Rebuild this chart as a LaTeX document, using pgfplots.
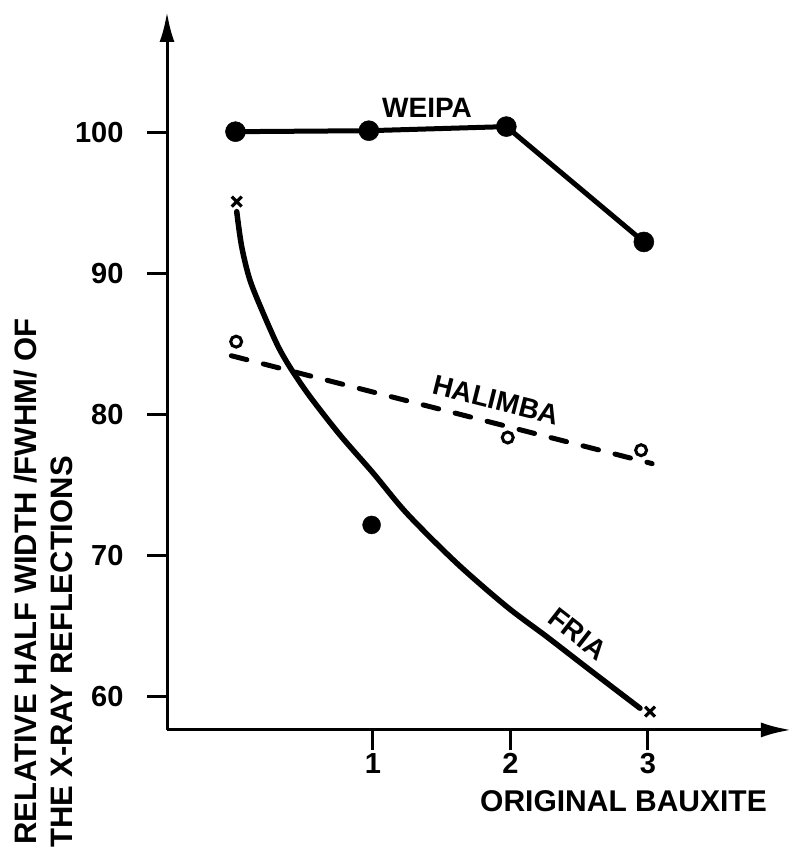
\documentclass[border=0pt]{standalone}
\usepackage{fontspec}
\setmainfont{Liberation Sans}
\usepackage{pgfplots}
\pgfplotsset{compat=1.18}
\usetikzlibrary{arrows.meta}

% Fria: smooth trend curve
\pgfplotstableread{
x      y
0.009  94.42
0.045  91.94
0.105  89.57
0.202  87.21
0.311  84.84
0.409  83.19
0.542  81.30
0.760  78.58
1.002  75.87
1.245  73.03
1.609  69.49
1.972  66.41
2.263  64.28
2.578  61.91
2.942  59.20
}\friacurve

\begin{document}
\begin{tikzpicture}
\begin{axis}[
  x=137.5pt, y=14.1pt,
  xmin=-0.498, xmax=4.04, ymin=57.66, ymax=108.58,
  axis x line=bottom, axis y line=left,
  axis line style={line width=3pt, -{Latex[length=30pt,width=15pt]}},
  xtick={1,2,3}, ytick={60,70,80,90,100},
  tick align=outside, major tick length=20pt,
  tick style={line width=3pt, black},
  ticklabel style={font=\fontsize{29}{34}\selectfont\bfseries},
  yticklabel style={xshift=-20pt},
  /pgf/number format/assume math mode=true,
  clip=false,
]
% Weipa
\addplot[black, line width=5pt, mark=*, mark size=10pt,
  mark options={line width=0.5pt}]
  coordinates {(0,100.09) (0.97,100.16) (1.97,100.45) (2.97,92.27)};
% Halimba: fitted dashed line and measured points
\addplot[black, line width=5pt, line cap=round, dash pattern=on 16pt off 17pt]
  coordinates {(-0.03,84.2) (3.03,76.55)};
\addplot[only marks, mark=o, mark size=5.5pt, mark options={line width=3pt}]
  coordinates {(0.005,85.2) (1.98,78.4) (2.95,77.5)};
% Fria
\addplot[black, line width=5.5pt, line cap=round, smooth, tension=0.5] table {\friacurve};
\addplot[only marks, mark=x, mark size=7pt, mark options={line width=3.2pt}]
  coordinates {(0.009,95.13) (3.015,58.96)};
\addplot[only marks, mark=*, mark size=9pt]
  coordinates {(0.99,72.2)};

\begin{scope}[font=\fontsize{28}{34}\selectfont\bfseries]
\node at (axis cs:1.393,101.8) {WEIPA};
\node[rotate=-14] at (axis cs:1.895,81.06) {HALIMBA};
\node[rotate=-38] at (axis cs:2.491,64.47) {FRIA};
\end{scope}

\begin{scope}[font=\fontsize{31}{37}\selectfont\bfseries]
\node[rotate=90, anchor=base west, inner sep=0pt] at (axis cs:-1.4436,49.50)
  {RELATIVE HALF WIDTH /FWHM/ OF};
\node[rotate=90, anchor=base west, inner sep=0pt] at (axis cs:-1.189,49.29)
  {THE X-RAY REFLECTIONS};
\end{scope}
\node[anchor=base, inner sep=0pt, font=\fontsize{30}{36}\selectfont\bfseries]
  at (axis cs:2.822,51.84) {ORIGINAL BAUXITE};

\coordinate (BL) at (axis cs:-1.7127,48.79);
\coordinate (TR) at (axis cs:4.047,109.43);
\end{axis}
\pgfresetboundingbox
\path[use as bounding box] (BL) rectangle (TR);
\end{tikzpicture}
\end{document}
